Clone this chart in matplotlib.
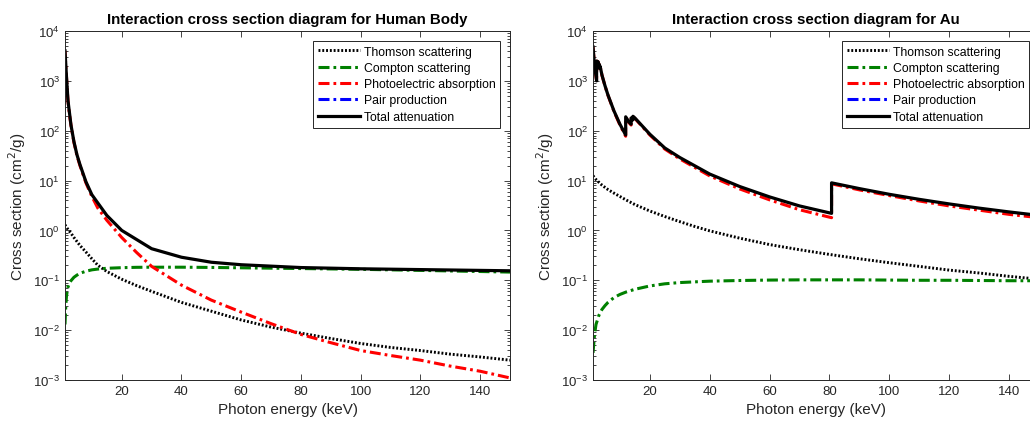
import numpy as np
import matplotlib
matplotlib.use("Agg")
import matplotlib.pyplot as plt

plt.rcParams['font.family'] = ['Liberation Sans', 'DejaVu Sans']

# ---- Human Body ----
e_hb = [1, 1.25, 1.5, 1.75, 2, 2.5, 3, 4, 5, 6, 8, 10, 12, 15, 20, 25, 30, 40, 50,
        60, 70, 80, 90, 100, 110, 120, 130, 140, 150]
thomson_hb = [1.3, 1.22, 1.16, 1.1, 1.05, 0.96, 0.88, 0.72, 0.6, 0.5, 0.37, 0.27, 0.2,
              0.15, 0.105, 0.078, 0.06, 0.036, 0.024, 0.016, 0.0115, 0.0087, 0.0068,
              0.0054, 0.0045, 0.0039, 0.0033, 0.0029, 0.0025]
compton_hb = [0.013, 0.03, 0.048, 0.062, 0.073, 0.088, 0.098, 0.115, 0.127, 0.138, 0.152,
              0.162, 0.168, 0.174, 0.179, 0.182, 0.183, 0.183, 0.181, 0.178, 0.175,
              0.172, 0.169, 0.166, 0.162, 0.158, 0.154, 0.15, 0.146]
photo_hb = [3950, 2000, 1190, 650, 395, 210, 128, 58, 32, 20, 9, 4.8, 2.8, 1.6, 0.72,
            0.36, 0.19, 0.08, 0.04, 0.023, 0.0135, 0.0082, 0.0056, 0.0039, 0.0031,
            0.0025, 0.0019, 0.0015, 0.0011]
e_tot_hb = [1, 1.5, 2, 3, 4, 5, 6, 8, 10, 15, 20, 30, 40, 50, 60, 80, 100, 150]
total_hb = [4000, 1200, 400, 130, 60, 33, 21, 9.5, 5.2, 2.0, 1.0, 0.43, 0.29, 0.23,
            0.205, 0.18, 0.17, 0.155]
pair_hb = [np.nan] * len(e_hb)

# ---- Au ----
e_au = [1, 1.5, 2, 3, 4, 5, 6, 8, 10, 12, 15, 20, 25, 30, 35, 40, 50, 60, 70, 80, 90,
        100, 110, 120, 130, 140, 150]
thomson_au = [12.5, 11.5, 10.5, 9.2, 8.1, 7.3, 6.6, 5.6, 4.8, 4.1, 3.3, 2.45, 1.9, 1.5,
              1.2, 0.98, 0.7, 0.52, 0.41, 0.33, 0.27, 0.225, 0.19, 0.16, 0.14, 0.12, 0.105]
compton_au = [0.0035, 0.008, 0.013, 0.02, 0.026, 0.031, 0.036, 0.045, 0.052, 0.058,
              0.066, 0.077, 0.085, 0.09, 0.093, 0.096, 0.099, 0.101, 0.102, 0.102, 0.102,
              0.101, 0.1, 0.1, 0.099, 0.098, 0.098]
e_tot_au = [1, 1.5, 2.2, 2.2, 2.29, 2.29, 2.74, 2.74, 3.15, 3.15, 3.43, 3.43, 4, 5, 6, 8,
            10, 11.92, 11.92, 13.0, 13.73, 13.73, 14.35, 14.35, 15, 20, 25, 30, 40, 50,
            60, 70, 80.7, 80.7, 90, 100, 110, 120, 130, 140, 150]
total_au = [4800, 2100, 1000, 1900, 1700, 2500, 2000, 2400, 1900, 2100, 1800, 1900, 1300,
            800, 520, 250, 135, 82, 190, 150, 135, 180, 165, 195, 180, 85, 45, 29, 13.5,
            7.6, 4.7, 3.1, 2.2, 9.0, 6.9, 5.3, 4.2, 3.4, 2.8, 2.35, 2.0]
photo_au = [4785, 2088, 989, 1889, 1690, 2490, 1991, 2391, 1892, 2092, 1792, 1892, 1292,
            793, 513, 244, 130, 77.5, 185, 145, 130, 175, 160, 190, 176, 82, 42.8, 27.2,
            12.4, 6.8, 4.1, 2.6, 1.8, 8.6, 6.5, 5.0, 3.9, 3.1, 2.55, 2.1, 1.8]
pair_au = [np.nan] * len(e_au)

green = (0, 0.5, 0)
axcol = '#262626'
dashdot = (0, (3.6, 1.3, 0.9, 1.3))


def draw(ax, title, e, thom, comp, e_ph, ph, pair, e_tot, tot):
    ax.plot(e, thom, color='k', lw=2.1, linestyle=(0, (0.65, 0.65)), label='Thomson scattering')
    ax.plot(e, comp, color=green, lw=2.2, linestyle=dashdot, label='Compton scattering')
    ax.plot(e_ph, ph, color='r', lw=2.2, linestyle=dashdot, label='Photoelectric absorption')
    ax.plot(e, pair, color='b', lw=2.2, linestyle=dashdot, label='Pair production')
    ax.plot(e_tot, tot, color='k', lw=2.3, label='Total attenuation')
    ax.set_yscale('log')
    ax.set_xlim(1, 150)
    ax.set_ylim(1e-3, 1e4)
    ax.set_xticks([20, 40, 60, 80, 100, 120, 140])
    ax.set_yticks([10.0 ** k for k in range(-3, 5)])
    ax.tick_params(which='both', direction='in', top=True, right=True, colors=axcol,
                   labelsize=9.5, width=0.6)
    ax.tick_params(which='major', length=4)
    ax.tick_params(which='minor', length=2)
    for s in ax.spines.values():
        s.set_color(axcol)
        s.set_linewidth(0.7)
    ax.set_title(title, fontsize=10.8, fontweight='bold', color='k', pad=6)
    ax.set_xlabel('Photon energy (keV)', fontsize=11, color=axcol)
    ax.set_ylabel('Cross section (cm$^2$/g)', fontsize=11, color=axcol)
    leg = ax.legend(loc='upper right', fontsize=8.8, fancybox=False, framealpha=1,
                    edgecolor=axcol, handlelength=3.4, labelspacing=0.35,
                    borderaxespad=0.8, handletextpad=0.3, borderpad=0.4)
    leg.get_frame().set_linewidth(0.7)


fig = plt.figure(figsize=(10.3, 4.27), dpi=100)
ax1 = fig.add_axes([65 / 1030, 1 - 381 / 427, 445 / 1030, 349 / 427])
ax2 = fig.add_axes([593 / 1030, 1 - 381 / 427, 446 / 1030, 349 / 427])

draw(ax1, 'Interaction cross section diagram for Human Body', e_hb, thomson_hb,
     compton_hb, e_hb, photo_hb, pair_hb, e_tot_hb, total_hb)
draw(ax2, 'Interaction cross section diagram for Au', e_au, thomson_au, compton_au,
     e_tot_au, photo_au, pair_au, e_tot_au, total_au)

fig.savefig('out.png', dpi=100)
